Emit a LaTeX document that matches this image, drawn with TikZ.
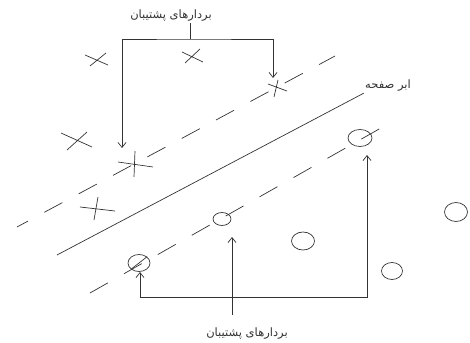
\documentclass[tikz,border=0pt]{standalone}
\usepackage{fontspec}
\newfontfamily\farsi[Script=Arabic]{DejaVu Sans}
\TeXXeTstate=1
\usetikzlibrary{shapes.geometric,arrows.meta}

\begin{document}
\begin{tikzpicture}[x=1pt,y=-1pt,line width=0.7pt,black!80,
  vec/.style={draw,ellipse,inner sep=0pt},
  lab/.style={font=\farsi\fontsize{11.5}{13}\selectfont,inner sep=1pt,text=black!80},
  >={Straight Barb[length=5pt,width=8pt]}]

\useasboundingbox (0,0) rectangle (470,342);

% Labels
  \node[lab] (tl) at (171,16) {\beginR بردارهای پشتیبان\endR};
  \node[lab] (bl) at (247,334) {\beginR بردارهای پشتیبان\endR};
  \node[lab] (hp) at (388,86) {\beginR ابر صفحه\endR};

% Crosses
  \foreach \nm/\c/\a/\b/\p/\q in {x1/{97,60}/{-12,-5}/{11,5}/{-7,6}/{9,-7},
      x2/{192,57}/{-10,-5}/{11,5}/{-7,6}/{8,-8},
      x3/{77,140}/{-16,-7}/{15,7}/{-10,10}/{10,-8},
      x4/{96,208}/{-16,-1}/{19,3}/{2,-11}/{-2,12},
      s1/{276,88}/{-8,-4}/{11,3}/{2,-8}/{-2,9},
      s2/{134,164}/{-16,-2}/{19,3}/{1,-13}/{0,13}}
  {
    \coordinate (\nm) at (\c);
    \draw ([shift={(\a)}]\nm) -- ([shift={(\b)}]\nm) ([shift={(\p)}]\nm) -- ([shift={(\q)}]\nm);
  }

% Circles
  \node[vec,minimum width=24pt,minimum height=17pt] (s3) at (360,138) {};
  \node[vec,minimum width=18pt,minimum height=13pt] (s4) at (222,219) {};
  \node[vec,minimum width=22pt,minimum height=17pt] (s5) at (139,263) {};
  \draw (s5.south west) -- (s5.north east);
  \node[vec,minimum width=23pt,minimum height=18pt] (o1) at (303,241) {};
  \node[vec,minimum width=23pt,minimum height=19pt] (o2) at (456,212) {};
  \node[vec,minimum width=21pt,minimum height=17pt] (o3) at (392,271) {};

% Hyperplane and margins
  \draw (57,255) -- (hp.south west);
  \draw[dash pattern=on 20.5pt off 18.5pt,dash phase=8pt] (17,227) -- (335,56);
  \draw[dash pattern=on 20.5pt off 18.5pt] (90,293) -- (395,120);

% Arrows
  \coordinate (tb) at (190,39);
  \coordinate (a1) at (122,148);
  \coordinate (a2) at (273,78);
  \draw (tb) -- (tb |- tl.south);
  \draw[<->] (a1) |- (tb) -| (a2);

  \coordinate (bb) at (367,297);
  \coordinate (b1) at (140,272);
  \coordinate (b2) at (367,155);
  \draw[<->] (b1) |- (bb) -- (b2);

  \coordinate (m0) at (232,315);
  \coordinate (m1) at (232,237);
  \draw[->] (m0) -- (m1);
\end{tikzpicture}
\end{document}
